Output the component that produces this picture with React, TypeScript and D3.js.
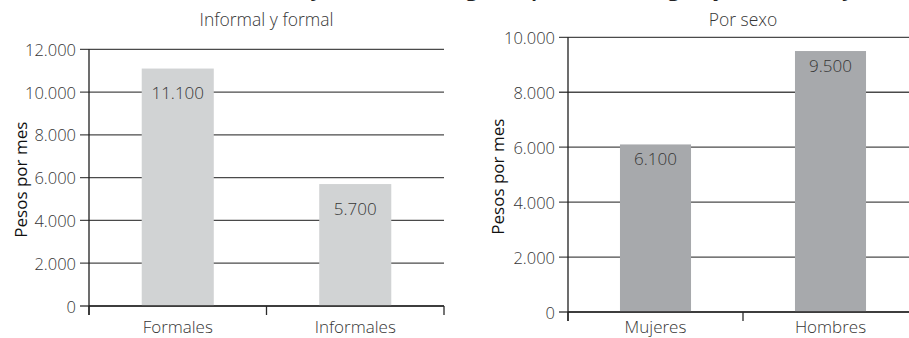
import React from "react";
import * as d3 from "d3";

// ---- data ----
const leftTitle = "Informal y formal";
const leftCategories = ["Formales", "Informales"];
const leftValues = [11100, 5700];
const leftTicks = [0, 2000, 4000, 6000, 8000, 10000, 12000];

const rightTitle = "Por sexo";
const rightCategories = ["Mujeres", "Hombres"];
const rightValues = [6100, 9500];
const rightTicks = [0, 2000, 4000, 6000, 8000, 10000];

const yAxisTitle = "Pesos por mes";
const headerText = "Salario y brecha de ingreso promedio según formalidad y sexo, en pesos por mes, por tipo";

const W = 909;
const H = 338;
const FONT = "'Open Sans', 'Noto Sans', sans-serif";
const TEXT = "#363636";
const WEIGHT = 300;

const fmt = (v: number) => d3.format(",")(v).replace(/,/g, ".");

type ChartProps = {
  title: string;
  categories: string[];
  values: number[];
  ticks: number[];
  x0: number;
  x1: number;
  yTop: number;
  yBottom: number;
  color: string;
  labelOffset: number;
  yTitleX: number;
};

function BarPanel(p: ChartProps) {
  const yMax = p.ticks[p.ticks.length - 1];
  const y = d3.scaleLinear().domain([0, yMax]).range([p.yBottom, p.yTop]);
  const x = d3
    .scaleBand<string>()
    .domain(p.categories)
    .range([p.x0, p.x1])
    .paddingInner(0.594)
    .paddingOuter(0.297);
  const step = x.step();
  const bounds = d3.range(p.categories.length + 1).map((i) => p.x0 + i * step);
  const yMid = (p.yTop + p.yBottom) / 2 + 2;
  return (
    <g>
      <text
        x={(p.x0 + p.x1) / 2}
        y={26}
        textAnchor="middle"
        fontSize={17.5}
        fontWeight={WEIGHT}
        fill={TEXT}
        fontFamily={FONT}
      >
        {p.title}
      </text>
      {p.ticks.map((t) => (
        <line
          key={"g" + t}
          x1={p.x0 - 9}
          x2={p.x1}
          y1={y(t)}
          y2={y(t)}
          stroke="#4a4a4a"
          strokeWidth={1.3}
        />
      ))}
      {p.categories.map((c, i) => (
        <rect
          key={"b" + c}
          x={x(c)}
          y={y(p.values[i])}
          width={x.bandwidth()}
          height={y(0) - y(p.values[i])}
          fill={p.color}
        />
      ))}
      {p.categories.map((c, i) => (
        <text
          key={"v" + c}
          x={(x(c) as number) + x.bandwidth() / 2}
          y={y(p.values[i]) + p.labelOffset}
          textAnchor="middle"
          dominantBaseline="central"
          fontSize={17}
          fontWeight={WEIGHT}
          fill={TEXT}
          fontFamily={FONT}
        >
          {fmt(p.values[i])}
        </text>
      ))}
      <line x1={p.x0} x2={p.x1} y1={y(0)} y2={y(0)} stroke="#2a2a2a" strokeWidth={1.3} />
      {bounds.map((bx, i) => (
        <line
          key={"ct" + i}
          x1={bx}
          x2={bx}
          y1={y(0)}
          y2={y(0) + 9}
          stroke="#2a2a2a"
          strokeWidth={1.3}
        />
      ))}
      <line x1={p.x0} x2={p.x0} y1={p.yTop} y2={y(0) + 9} stroke="#1f1f1f" strokeWidth={1.3} />
      {p.ticks.map((t) => (
        <text
          key={"t" + t}
          x={p.x0 - 13}
          y={y(t)}
          textAnchor="end"
          dominantBaseline="central"
          fontSize={16.5}
          fontWeight={WEIGHT}
          fill={TEXT}
          fontFamily={FONT}
        >
          {fmt(t)}
        </text>
      ))}
      {p.categories.map((c) => (
        <text
          key={"c" + c}
          x={(x(c) as number) + x.bandwidth() / 2}
          y={333}
          textAnchor="middle"
          fontSize={17}
          fontWeight={WEIGHT}
          fill={TEXT}
          fontFamily={FONT}
        >
          {c}
        </text>
      ))}
      <text
        transform={`translate(${p.yTitleX},${yMid}) rotate(-90)`}
        textAnchor="middle"
        dominantBaseline="central"
        fontSize={17}
        fill="#111"
        fontFamily={FONT}
      >
        {yAxisTitle}
      </text>
    </g>
  );
}

export default function App() {
  return (
    <svg
      width={W}
      height={H}
      viewBox={`0 0 ${W} ${H}`}
      style={{ position: "absolute", left: 0, top: 0, background: "#fff" }}
    >
      <rect width={W} height={H} fill="#fff" />
      <text
        x={230}
        y={-5}
        fontSize={24}
        fontStyle="italic"
        fontWeight={600}
        fill="#222"
        fontFamily={FONT}
      >
        {headerText}
      </text>
      <BarPanel
        title={leftTitle}
        categories={leftCategories}
        values={leftValues}
        ticks={leftTicks}
        x0={89}
        x1={444}
        yTop={49.3}
        yBottom={306}
        color="#d1d3d4"
        labelOffset={24}
        yTitleX={20}
      />
      <BarPanel
        title={rightTitle}
        categories={rightCategories}
        values={rightValues}
        ticks={rightTicks}
        x0={568}
        x1={918}
        yTop={37.3}
        yBottom={312}
        color="#a7a9ac"
        labelOffset={14}
        yTitleX={497}
      />
    </svg>
  );
}
